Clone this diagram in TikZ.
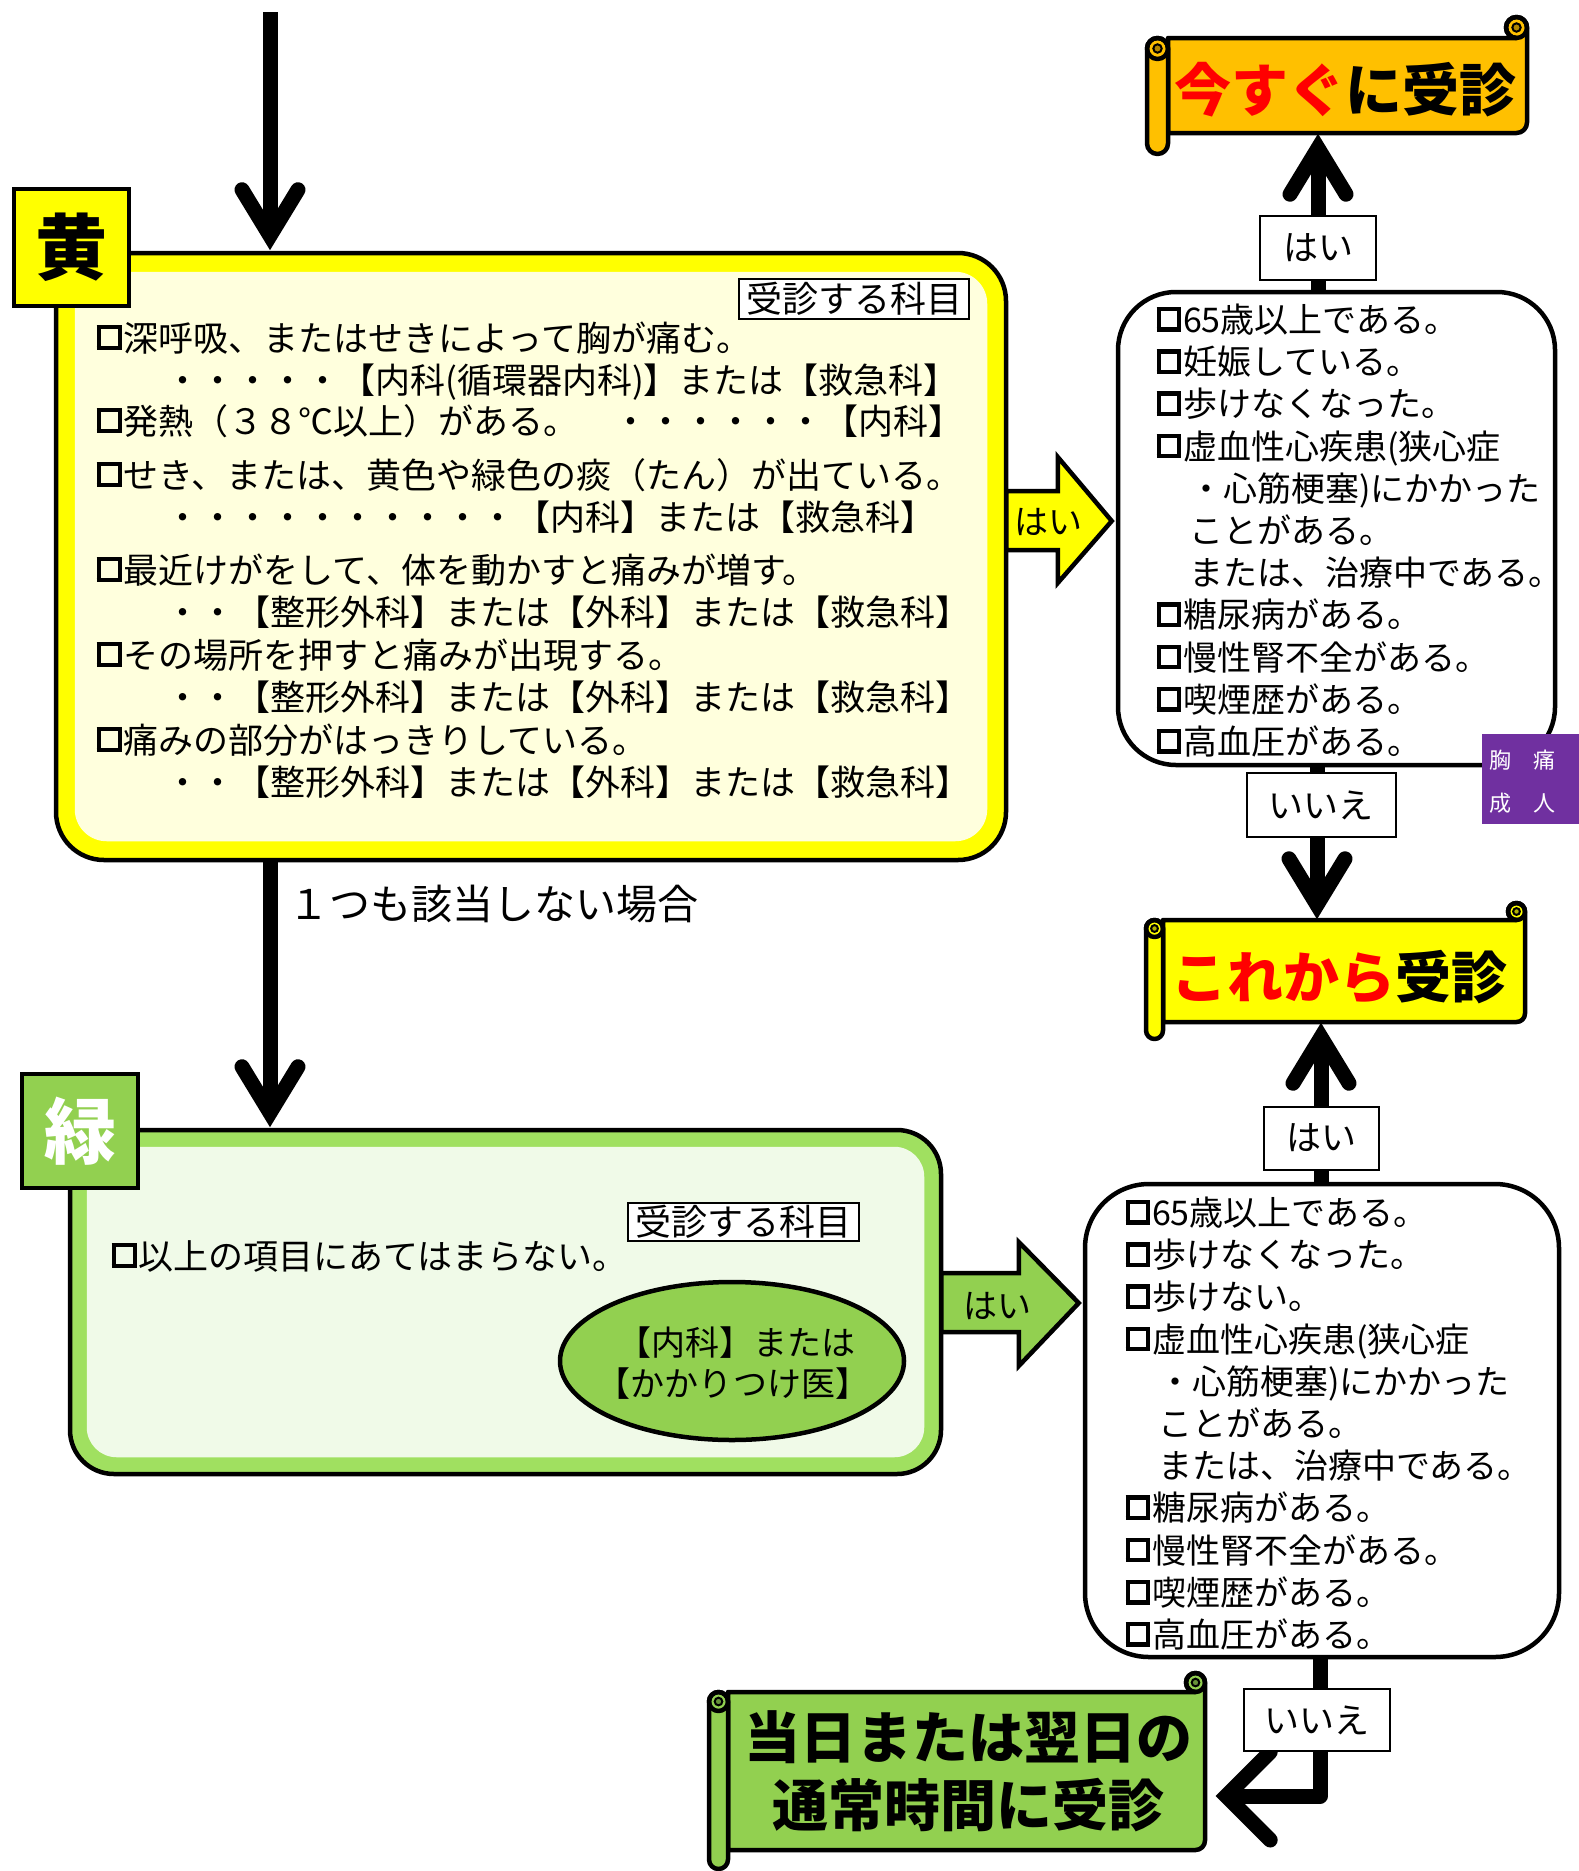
\documentclass[tikz,border=0pt]{standalone}
\usepackage{fontspec}
\setmainfont{Noto Sans CJK JP}
\usetikzlibrary{shapes.geometric,calc}
\definecolor{kiiro}{RGB}{255,255,0}
\definecolor{kiusu}{RGB}{255,255,221}
\definecolor{orng}{RGB}{255,192,0}
\definecolor{midori}{RGB}{146,208,80}
\definecolor{midband}{RGB}{160,224,96}
\definecolor{midusu}{RGB}{240,250,232}
\definecolor{murasaki}{RGB}{112,48,160}
\newcommand\fsz[1]{\fontsize{#1pt}{#1pt}\selectfont}
\newcommand\sq{\hspace{0.04em}\raisebox{0.15em}{\setlength{\fboxrule}{0.13em}\setlength{\fboxsep}{0pt}\fbox{\rule{0pt}{0.47em}\rule{0.47em}{0pt}}}\hspace{0.05em}}
\tikzset{
  vup/.pic={\draw[line width=15pt, line cap=round, line join=miter, miter limit=10] (-28,-61) -- (0,-15) -- (28,-61);},
  vleftbig/.pic={\draw[line width=15pt, line cap=round, line join=miter, miter limit=10] (55,44) -- (11,0) -- (55,-44);},
  shaft/.style={line width=15pt},
  panel/.style={draw, line width=4.5pt, inner sep=0pt},
  lbl/.style={draw, fill=white, line width=2pt, inner sep=0pt},
  tl/.style={anchor=base west, inner sep=0pt},
  blk/.style={draw, line width=4.5pt, line join=miter},
  scrl/.style={line width=4.5pt, line join=round},
}
\newcommand\myscroll[6]{%
  \pgfmathsetmacro\scA{#1}\pgfmathsetmacro\scB{#2}%
  \pgfmathsetmacro\scC{#3}\pgfmathsetmacro\scD{#4}%
  \pgfmathsetmacro\scR{#5}%
  \filldraw[scrl, fill=#6] (\scA,\scD) -- (\scA,\scB) -- ({\scC-\scR},\scB) arc[start angle=-90, end angle=-360, radius=\scR] -- (\scC,{\scD+\scR}) arc[start angle=0, end angle=-90, radius=\scR] -- cycle;
  \draw[scrl] ({\scC-\scR},{\scB+\scR}) circle[radius=\scR];
  \filldraw[line width=2pt, fill=#6!70!black] ({\scC-\scR},{\scB+\scR}) circle[radius={0.4*\scR}];
  \filldraw[scrl, fill=#6] (\scA,{\scB-\scR}) -- (\scA,{\scD-\scR}) arc[start angle=0, end angle=-180, radius=\scR] -- ({\scA-2*\scR},{\scB-\scR}) arc[start angle=180, end angle=0, radius=\scR] -- cycle;
  \draw[scrl] ({\scA-\scR},{\scB-\scR}) circle[radius=\scR];
  \filldraw[line width=2pt, fill=#6!70!black] ({\scA-\scR},{\scB-\scR}) circle[radius={0.4*\scR}];
}
\begin{document}
\begin{tikzpicture}[x=1pt,y=1pt]
\useasboundingbox (0,0) rectangle (1579,-1871);
\fill[white] (0,0) rectangle (1579,-1871);

% ---------- yellow panel ----------
\node[panel, fill=kiiro, rounded corners=48pt, minimum width=950pt, minimum height=607pt] (ybox) at (531,-556.5) {};
\fill[kiusu, rounded corners=32pt] ([shift={(21,-21)}]ybox.north west) rectangle ([shift={(-21,21)}]ybox.south east);
\node[lbl, minimum width=230pt, minimum height=40pt, font=\fsz{36}] (ylab) at (854,-299) {受診する科目};
\node[panel, fill=kiiro, minimum width=115pt, minimum height=117pt, font=\bfseries\fsz{72}] (ki) at (71.5,-247.5) {黄};
\foreach \yy/\txt [count=\i] in {
 351/{\sq 深呼吸、またはせきによって胸が痛む。},
 393/{　　・・・・・【内科(循環器内科)】または【救急科】},
 434/{\sq 発熱（３８℃以上）がある。　・・・・・・【内科】},
 488/{\sq せき、または、黄色や緑色の痰（たん）が出ている。},
 530/{　　・・・・・・・・・・【内科】または【救急科】},
 583/{\sq 最近けがをして、体を動かすと痛みが増す。},
 625/{　　・・【整形外科】または【外科】または【救急科】},
 668/{\sq その場所を押すと痛みが出現する。},
 710/{　　・・【整形外科】または【外科】または【救急科】},
 753/{\sq 痛みの部分がはっきりしている。},
 795/{　　・・【整形外科】または【外科】または【救急科】}}
  \node[tl, font=\fsz{35}] (yt\i) at (95,-\yy) {\txt};

% ---------- green panel ----------
\node[panel, fill=midband, rounded corners=44pt, minimum width=871pt, minimum height=344pt] (gbox) at (505.5,-1302) {};
\fill[midusu, rounded corners=30pt] ([shift={(19,-19)}]gbox.north west) rectangle ([shift={(-19,19)}]gbox.south east);
\node[lbl, minimum width=231pt, minimum height=38pt, font=\fsz{36}] (glab) at (743.5,-1222) {受診する科目};
\node[panel, fill=midori, minimum width=116pt, minimum height=114pt, font=\bfseries\fsz{72}, text=white] (mi) at (80,-1131) {緑};
\node[tl, font=\fsz{35}] (gt1) at (110,-1269) {\sq 以上の項目にあてはまらない。};
\node[ellipse, draw, line width=4.5pt, fill=midori, minimum width=344pt, minimum height=158pt, inner sep=0pt] (el) at (732,-1361) {};
\node[font=\fsz{34}, inner sep=0pt] (elt1) at (736,-1343) {【内科】または};
\node[font=\fsz{34}, inner sep=0pt] (elt2) at (733,-1384) {【かかりつけ医】};

% ---------- right boxes ----------
\node[panel, fill=white, rounded corners=58pt, minimum width=437pt, minimum height=473pt] (b1) at (1336.5,-528.5) {};
\foreach \txt [count=\i] in {
 {\sq 65歳以上である。},{\sq 妊娠している。},{\sq 歩けなくなった。},{\sq 虚血性心疾患(狭心症},
 {　・心筋梗塞)にかかった},{　ことがある。},{　または、治療中である。},
 {\sq 糖尿病がある。},{\sq 慢性腎不全がある。},{\sq 喫煙歴がある。},{\sq 高血圧がある。}}
  \node[tl, font=\fsz{34}] (bat\i) at (1155,{-332.5-42.2*(\i-1)}) {\txt};

\node[panel, fill=white, rounded corners=64pt, minimum width=474pt, minimum height=473pt] (b2) at (1322,-1420.5) {};
\foreach \txt [count=\i] in {
 {\sq 65歳以上である。},{\sq 歩けなくなった。},{\sq 歩けない。},{\sq 虚血性心疾患(狭心症},
 {　・心筋梗塞)にかかった},{　ことがある。},{　または、治療中である。},
 {\sq 糖尿病がある。},{\sq 慢性腎不全がある。},{\sq 喫煙歴がある。},{\sq 高血圧がある。}}
  \node[tl, font=\fsz{34}] (bbt\i) at (1124,{-1225.5-42.2*(\i-1)}) {\txt};

% ---------- scrolls ----------
\node[inner sep=0pt, minimum width=359pt, minimum height=95pt] (s1) at (1347.5,-85.5) {};
\myscroll{1168}{-38}{1527}{-133}{10.5}{orng}
\node[font=\bfseries\fsz{57}, inner sep=0pt] (s1t) at (1345,-90) {\textcolor{red}{今すぐ}に受診};

\node[inner sep=0pt, minimum width=362pt, minimum height=102pt] (s2) at (1344,-971) {};
\myscroll{1163}{-920}{1525}{-1022}{8.5}{kiiro}
\node[font=\bfseries\fsz{56}, inner sep=0pt] (s2t) at (1339,-977) {\textcolor{red}{これから}受診};

\node[inner sep=0pt, minimum width=477pt, minimum height=158pt] (s3) at (966.5,-1771) {};
\myscroll{728}{-1692}{1205}{-1850}{9.5}{midori}
\node[font=\bfseries\fontsize{56pt}{68pt}\selectfont, align=center, inner sep=0pt] (s3t) at (968,-1771) {当日または翌日の\\通常時間に受診};

% ---------- connectors ----------
\coordinate (top0) at (270,-12);
\draw[shaft] (top0) -- ($(ybox.north -| top0)+(0,16)$);
\pic[rotate=180] at (ybox.north -| top0) {vup};
\draw[shaft] (ybox.south -| top0) -- ($(gbox.north -| top0)+(0,16)$);
\pic[rotate=180] at (gbox.north -| top0) {vup};
\node[tl, font=\fsz{41}] (none) at (288,-919) {１つも該当しない場合};

\coordinate (ya) at (0,-521);
\draw[blk, fill=kiiro] let \p1=(ybox.east |- ya), \p2=(b1.west |- ya) in
  (\x1-2pt,\y1+30pt) -- (\x2-58pt,\y1+30pt) -- (\x2-58pt,\y1+64pt) -- (\x2-4pt,\y1) -- (\x2-58pt,\y1-62pt) -- (\x2-58pt,\y1-29pt) -- (\x1-2pt,\y1-29pt) -- cycle;
\node[font=\fsz{34}, inner sep=0pt] (yhai) at (1048,-522) {はい};

\coordinate (ga) at (0,-1303);
\draw[blk, fill=midori] let \p1=(gbox.east |- ga), \p2=(b2.west |- ga) in
  (\x1-2pt,\y1+30pt) -- (\x2-64pt,\y1+30pt) -- (\x2-64pt,\y1+61pt) -- (\x2-4pt,\y1) -- (\x2-64pt,\y1-63pt) -- (\x2-64pt,\y1-29pt) -- (\x1-2pt,\y1-29pt) -- cycle;
\node[font=\fsz{34}, inner sep=0pt] (ghai) at (997,-1306) {はい};

\coordinate (xa) at (1318,0);
\draw[shaft] (b1.north -| xa) -- ($(s1.south -| xa)+(0,-16)$);
\pic at (s1.south -| xa) {vup};
\node[lbl, minimum width=116pt, minimum height=64pt, font=\fsz{35}] (hai1) at (1318,-248) {はい};

\coordinate (xb) at (1317,0);
\draw[shaft] (b1.south -| xb) -- ($(s2.north -| xb)+(0,16)$);
\pic[rotate=180] at (s2.north -| xb) {vup};
\node[lbl, minimum width=149pt, minimum height=64pt, font=\fsz{35}] (iie1) at (1321,-805) {いいえ};

\coordinate (xc) at (1321,0);
\draw[shaft] (b2.north -| xc) -- ($(s2.south -| xc)+(0,-16)$);
\pic at (s2.south -| xc) {vup};
\node[lbl, minimum width=115pt, minimum height=63pt, font=\fsz{35}] (hai2) at (1321,-1138) {はい};

\coordinate (xd) at (1320,0);
\coordinate (yd) at (0,-1796);
\draw[shaft, line join=round] (b2.south -| xd) -- (xd |- yd) -- ($(s3.east |- yd)+(21,0)$);
\pic at ($(s3.east |- yd)+(10,0)$) {vleftbig};
\node[lbl, minimum width=146pt, minimum height=62pt, font=\fsz{35}] (iie2) at (1317,-1720) {いいえ};

% ---------- purple tag ----------
\node[fill=murasaki, minimum width=97pt, minimum height=90pt, inner sep=0pt] (pp) at (1530.5,-779) {};
\node[tl, font=\fsz{22}, text=white] (pp1) at (1489,-768.4) {胸　痛};
\node[tl, font=\fsz{22}, text=white] (pp2) at (1489,-811.4) {成　人};
\end{tikzpicture}
\end{document}
